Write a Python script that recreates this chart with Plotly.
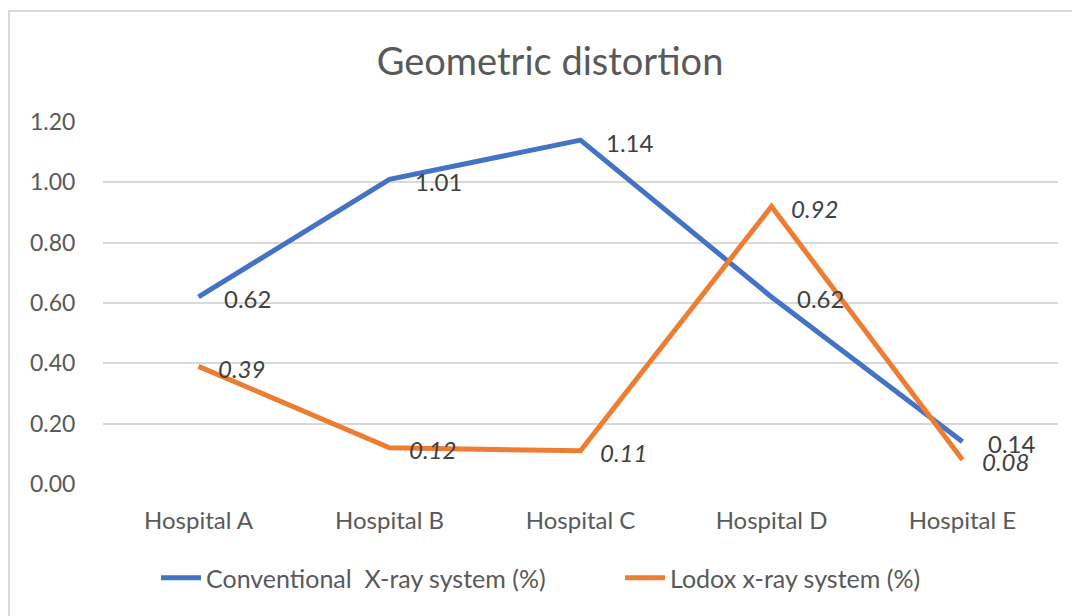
import plotly.graph_objects as go

categories = ["Hospital A", "Hospital B", "Hospital C", "Hospital D", "Hospital E"]
conventional = [0.62, 1.01, 1.14, 0.62, 0.14]
lodox = [0.39, 0.12, 0.11, 0.92, 0.08]
series_names = ["Conventional  X-ray system (%)", "Lodox x-ray system (%)"]
y_ticks = [0.0, 0.2, 0.4, 0.6, 0.8, 1.0, 1.2]

BLUE = "#4472C4"
ORANGE = "#ED7D31"
FONT = "Lato"

# page body has an 8px margin; figure coordinates are offset by it
L, T, W, H = 95, 114, 955, 362

fig = go.Figure()
fig.add_trace(go.Scatter(x=categories, y=conventional, mode="lines", name=series_names[0],
                         line=dict(color=BLUE, width=5), hoverinfo="skip"))
fig.add_trace(go.Scatter(x=categories, y=lodox, mode="lines", name=series_names[1],
                         line=dict(color=ORANGE, width=5), hoverinfo="skip"))

annotations = []
for c, v in zip(categories, conventional):
    annotations.append(dict(x=c, y=v, xref="x", yref="y", text=f"{v:.2f}", showarrow=False,
                            xanchor="left", yanchor="middle", xshift=23, yshift=-2,
                            font=dict(family=FONT, size=24, color="#404040")))
for c, v in zip(categories, lodox):
    annotations.append(dict(x=c, y=v, xref="x", yref="y", text=f"<i>{v:.2f}</i>", showarrow=False,
                            xanchor="left", yanchor="middle", xshift=17, yshift=-2,
                            font=dict(family=FONT, size=24, color="#404040")))

fig.update_layout(
    width=1080, height=616,
    margin=dict(l=L, r=1080 - L - W, t=T, b=616 - T - H, autoexpand=False),
    paper_bgcolor="white", plot_bgcolor="white",
    font=dict(family=FONT, color="#595959"),
    title=dict(text="Geometric distortion", x=542 / 1080, xref="container", xanchor="center",
               y=1 - 54 / 616, yref="container", yanchor="middle",
               font=dict(family=FONT, size=38, color="#595959")),
    showlegend=True,
    legend=dict(orientation="h", x=(546 + 66 - L) / W, xanchor="center",
                y=(T + H - 570) / H, yanchor="middle",
                font=dict(family=FONT, size=25, color="#595959"),
                itemwidth=40, tracegroupgap=0,
                entrywidth=409, entrywidthmode="pixels"),
    annotations=annotations,
    shapes=[dict(type="rect", xref="paper", yref="paper",
                 x0=(1 - L) / W, x1=(1100 - L) / W,
                 y0=(T + H - 640) / H, y1=1 + (T - 3) / H,
                 line=dict(color="#D9D9D9", width=2), layer="below")],
)
fig.update_xaxes(range=[-0.5, 4.5], showgrid=False, showline=False, zeroline=False,
                 ticks="outside", ticklen=15, tickcolor="rgba(0,0,0,0)",
                 tickfont=dict(family=FONT, size=24, color="#595959"))
fig.update_yaxes(range=[0, 1.2], tickvals=y_ticks, tickformat=".2f",
                 showgrid=True, gridcolor="#D9D9D9", gridwidth=1.5,
                 zeroline=False, showline=False,
                 ticks="outside", ticklen=22, tickcolor="rgba(0,0,0,0)",
                 tickfont=dict(family=FONT, size=23, color="#595959"))

fig.write_html("out.html")
